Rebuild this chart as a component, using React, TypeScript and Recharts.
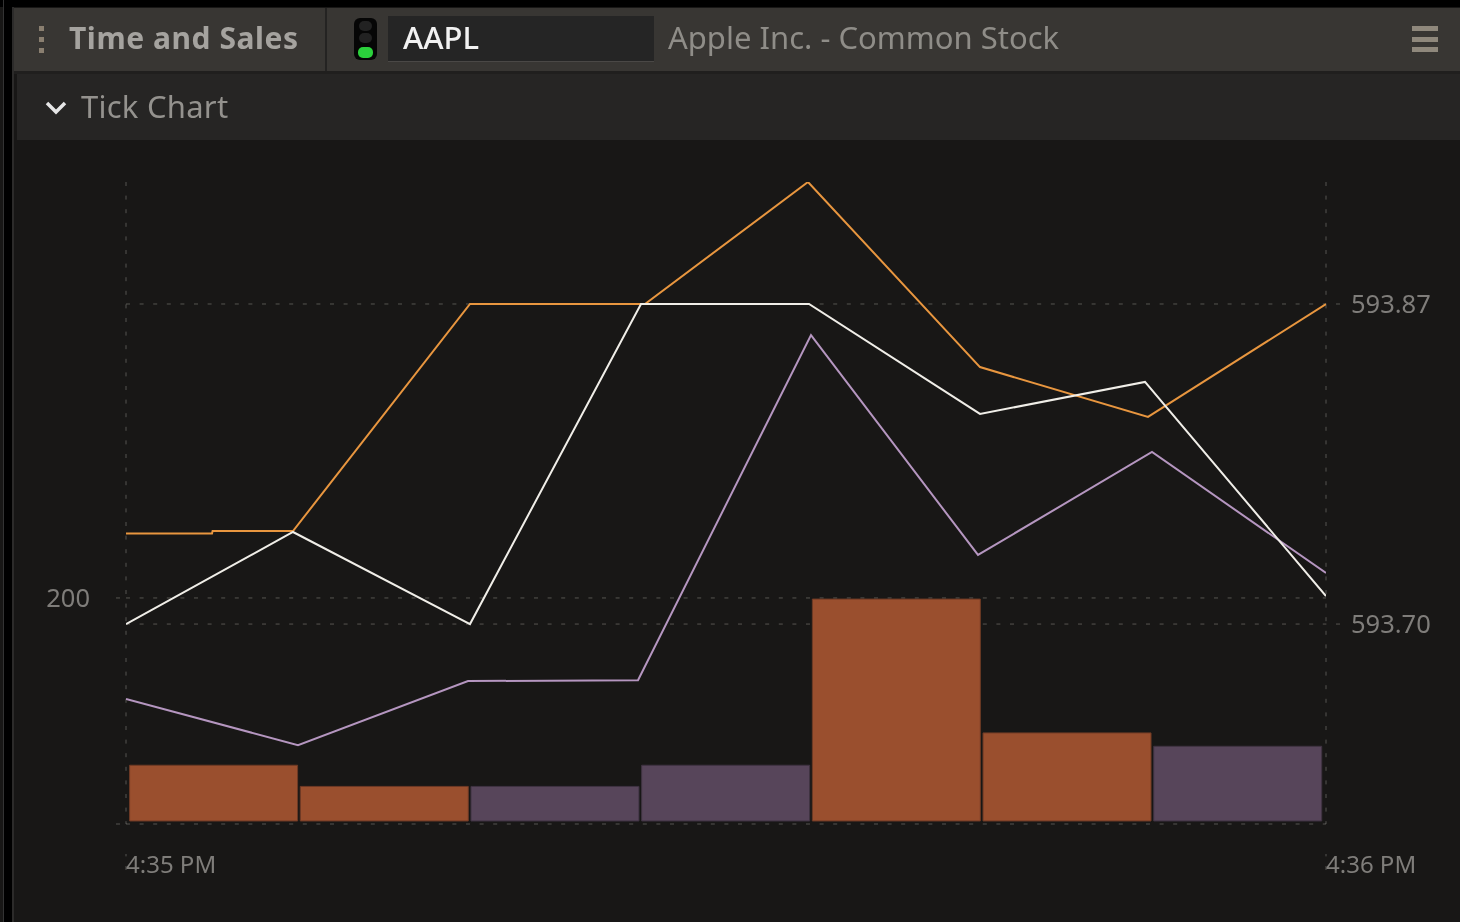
import React from "react";
import { ComposedChart, Line, Bar, XAxis, YAxis, CartesianGrid } from "recharts";

const timeLabels = ["4:35 PM", "4:36 PM"];
const timeTicks = [0, 60];
const priceTicks = [593.7, 593.87];
const volumeTicks = [-2.7, 200];

const askSeconds = [0, 4.3, 4.33, 8.35, 17.2, 25.95, 34.1, 42.7, 51.1, 60];
const askPrices = [593.7481, 593.7481, 593.7494, 593.7494, 593.87, 593.87, 593.9348, 593.8365, 593.81, 593.87];
const lastSeconds = [0, 8.35, 17.2, 25.75, 34.15, 42.7, 50.95, 60];
const lastPrices = [593.7, 593.7489, 593.7, 593.87, 593.87, 593.8116, 593.8286, 593.7149];
const bidSeconds = [0, 8.6, 17.1, 25.6, 34.25, 42.6, 51.3, 60];
const bidPrices = [593.6602, 593.6357, 593.6697, 593.6702, 593.8535, 593.7367, 593.7914, 593.7271];

const barBuckets = ["b1", "b2", "b3", "b4", "b5", "b6", "b7"];
const upVolumes = [50, 31, null, null, 199, 79, null];
const downVolumes = [null, null, 31, 50, null, null, 67];

const barRows = barBuckets.map((b, i) => ({ b, up: upVolumes[i], down: downVolumes[i] }));
const toRows = (ts: number[], ps: number[]) => ts.map((t, i) => ({ t, p: ps[i] }));

const FONT = "'Noto Sans', sans-serif";
const TICK = "#7f7d7a";
const GRID = "rgba(255,250,240,0.27)";
const DASH = "4 9.6";

const box = (s: React.CSSProperties): React.CSSProperties => ({ position: "absolute", ...s });

const TimeTick = (p: any) => (
  <text x={p.x} y={867} textAnchor="start" dominantBaseline="middle" fill={TICK} fontFamily={FONT} fontSize={24}>
    {timeLabels[timeTicks.indexOf(p.payload.value)]}
  </text>
);

export default function App() {
  return (
    <div style={box({ position: "fixed", left: 0, top: 0, width: 1460, height: 922, background: "#181716", overflow: "hidden", filter: "blur(0.7px)", fontFamily: FONT })}>
      <div style={box({ left: 0, top: 0, width: 1460, height: 7, background: "#000" })} />
      <div style={box({ left: 3, top: 0, width: 1, height: 922, background: "#333" })} />
      <div style={box({ left: 4, top: 0, width: 8, height: 922, background: "#000" })} />
      <div style={box({ left: 12, top: 7, width: 2, height: 915, background: "#2c2b2a" })} />
      <div style={box({ left: 14, top: 8, width: 1446, height: 63, background: "#383633" })} />
      <div style={box({ left: 14, top: 71, width: 1446, height: 3, background: "#201f1e" })} />
      <div style={box({ left: 17, top: 74, width: 1443, height: 66, background: "#262524" })} />
      <div style={box({ left: 325, top: 8, width: 2, height: 63, background: "#242322" })} />
      {[26, 37, 48].map((y) => <div key={y} style={box({ left: 39, top: y, width: 5, height: 5, background: "#8a7f70" })} />)}
      <div style={box({ left: 69, top: 16, fontSize: 30, fontWeight: 700, color: "#a5a39f", lineHeight: "44px", whiteSpace: "nowrap", letterSpacing: 0.55 })}>Time and Sales</div>
      <div style={box({ left: 354, top: 18, width: 23, height: 42, background: "#060606", borderRadius: 6 })} />
      <div style={box({ left: 359, top: 21, width: 13, height: 10, background: "#222", borderRadius: 5 })} />
      <div style={box({ left: 359, top: 33, width: 13, height: 10, background: "#222", borderRadius: 5 })} />
      <div style={box({ left: 358, top: 47, width: 15, height: 11, background: "#2bd13c", borderRadius: 5 })} />
      <div style={box({ left: 388, top: 16, width: 266, height: 46, background: "#252525", borderBottom: "1px solid #4a4846", boxSizing: "border-box" })} />
      <div style={box({ left: 403, top: 15, fontSize: 31, fontWeight: 500, color: "#f2f2f2", lineHeight: "44px", whiteSpace: "nowrap" })}>AAPL</div>
      <div style={box({ left: 668, top: 15, fontSize: 31, color: "#8f8d88", lineHeight: "44px", whiteSpace: "nowrap" })}>Apple Inc. - Common Stock</div>
      {[26, 37, 47].map((y) => <div key={y} style={box({ left: 1412, top: y, width: 26, height: 5, background: "#8f887c" })} />)}
      <svg style={box({ left: 44, top: 99, width: 24, height: 18 })}>
        <polyline points="3,4 12,13 21,4" fill="none" stroke="#e6e6e6" strokeWidth={3.5} />
      </svg>
      <div style={box({ left: 81, top: 84, fontSize: 31, color: "#94928e", lineHeight: "44px", whiteSpace: "nowrap", letterSpacing: 0.25 })}>Tick Chart</div>

      <div style={box({ left: 0, top: 0 })}>
        <ComposedChart width={1460} height={922} data={barRows} margin={{ top: 182, left: 0, right: 0, bottom: 0 }}>
          <XAxis xAxisId="b" dataKey="b" type="category" hide padding={{ left: 2.6, right: 2.6 }} />
          <XAxis xAxisId="t" dataKey="t" type="number" domain={[0, 60]} ticks={timeTicks} interval={0} height={98} allowDataOverflow
            axisLine={false} tickSize={16} tickLine={{ stroke: GRID, strokeDasharray: DASH }} tick={<TimeTick />} />
          <YAxis yAxisId="vol" orientation="left" width={126} domain={[-2.7, 573]} ticks={volumeTicks} interval={0}
            allowDataOverflow axisLine={false} tickSize={10} tickMargin={26} tickLine={{ stroke: GRID, strokeDasharray: DASH }}
            tickFormatter={(v: number) => (v === 200 ? "200" : "")}
            tick={{ fill: TICK, fontSize: 25.5, fontFamily: FONT }} />
          <YAxis yAxisId="price" orientation="right" width={134} domain={[593.5938, 593.9348]} ticks={priceTicks} interval={0}
            allowDataOverflow axisLine={false} tickSize={14} tickMargin={11} tickLine={{ stroke: GRID, strokeDasharray: DASH }}
            tickFormatter={(v: number) => v.toFixed(2)}
            tick={{ fill: TICK, fontSize: 25.5, fontFamily: FONT }} />
          <Bar xAxisId="b" yAxisId="vol" dataKey="up" stackId="v" barSize={168} fill="#9a4f2e" stroke="#6e3a25" isAnimationActive={false} />
          <Bar xAxisId="b" yAxisId="vol" dataKey="down" stackId="v" barSize={168} fill="#57455a" stroke="#3f3342" isAnimationActive={false} />
          <CartesianGrid yAxisId="vol" xAxisId="t" vertical={false} syncWithTicks stroke={GRID} strokeDasharray={DASH} />
          <CartesianGrid yAxisId="price" xAxisId="t" syncWithTicks stroke={GRID} strokeDasharray={DASH} />
          <Line xAxisId="t" yAxisId="price" data={toRows(bidSeconds, bidPrices)} dataKey="p" name="bid" stroke="#b596c0" strokeWidth={2} dot={false} type="linear" isAnimationActive={false} />
          <Line xAxisId="t" yAxisId="price" data={toRows(askSeconds, askPrices)} dataKey="p" name="ask" stroke="#e8963f" strokeWidth={2} dot={false} type="linear" isAnimationActive={false} />
          <Line xAxisId="t" yAxisId="price" data={toRows(lastSeconds, lastPrices)} dataKey="p" name="last" stroke="#f0eee8" strokeWidth={2} dot={false} type="linear" isAnimationActive={false} />
        </ComposedChart>
      </div>
    </div>
  );
}
